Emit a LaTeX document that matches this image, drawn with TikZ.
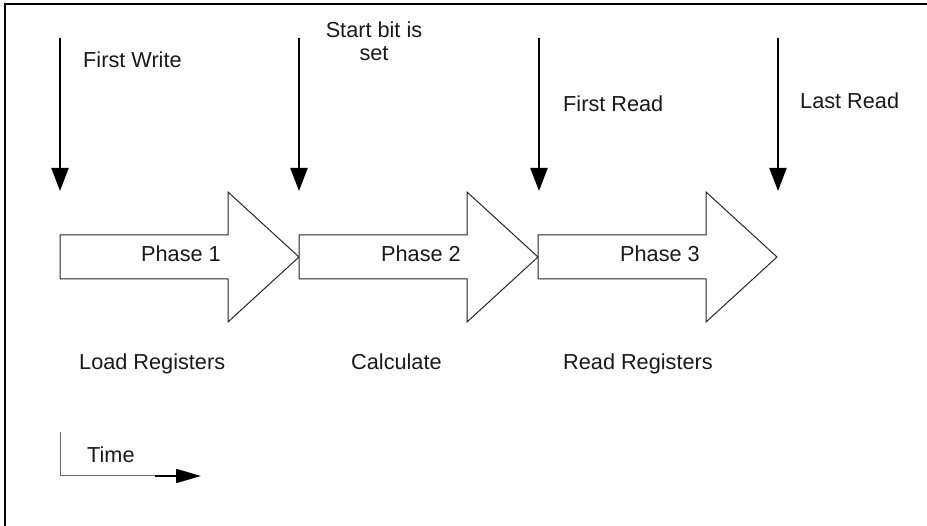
\documentclass[tikz,border=0pt]{standalone}
\usepackage{fontspec}
\setmainfont{Liberation Sans}
\usetikzlibrary{arrows.meta}
\begin{document}
\begin{tikzpicture}[x=1pt,y=-1pt,
  lbl/.style={anchor=base west,inner sep=0pt,font=\fontsize{21.7}{23}\selectfont,text=black!90},
  event/.style={line width=2pt,-{Triangle[length=23pt,width=17pt]}},
  phasearrow/.style={draw=black!85,line width=1pt,fill=white,line join=miter},
  axis/.style={draw=black!60,line width=1pt}]
\useasboundingbox (0,0) rectangle (927,526);
% frame (only top and left edges visible)
\draw[line width=1.3pt] (5,526) -- (5,4) -- (927,4);
% block arrows
\foreach \x/\n in {60/1,299/2,538/3}{
  \draw[phasearrow] (\x,235) -- (\x+168,235) -- (\x+168,192) -- (\x+239,257)
     -- (\x+168,322) -- (\x+168,279) -- (\x,279) -- cycle;
}
% event arrows
\foreach \x/\n in {60/a,299/b,539/c,778/d}{
  \coordinate (top\n) at (\x,38);
  \coordinate (tip\n) at (\x,191);
  \draw[event] (top\n) -- (tip\n);
}
% labels
\node[lbl] (fw) at (83,68) {First Write};
\node[lbl,anchor=base,align=center] (sb) at (374,61) {Start bit is\\set};
\node[lbl] (fr) at (563,112) {First Read};
\node[lbl] (lr) at (800,109) {Last Read};
\node[lbl] (p1) at (141,262) {Phase 1};
\node[lbl] (p2) at (381,262) {Phase 2};
\node[lbl] (p3) at (620,262) {Phase 3};
\node[lbl] (ld) at (79,370) {Load Registers};
\node[lbl] (ca) at (351,370) {Calculate};
\node[lbl] (rr) at (563,370) {Read Registers};
\node[lbl] (tm) at (87,463) {Time};
% time axis
\coordinate (ax0) at (60,432);
\coordinate (ax1) at (60,476);
\coordinate (ax2) at (155,476);
\coordinate (ax3) at (201,476);
\draw[axis] (ax0) -- (ax1) -- (ax2);
\draw[line width=2pt,-{Triangle[length=25pt,width=14pt]}] (ax2) -- (ax3);
\end{tikzpicture}
\end{document}
